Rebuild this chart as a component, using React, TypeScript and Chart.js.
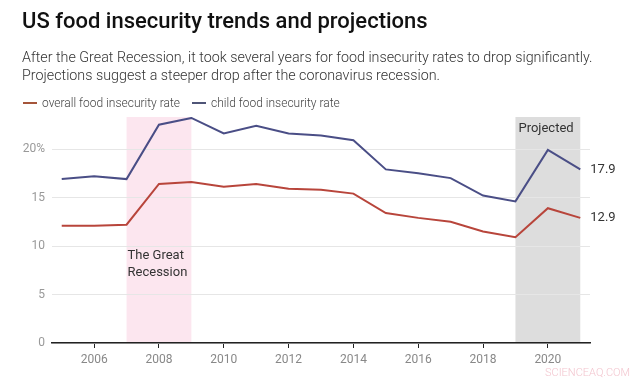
import React, { useEffect, useRef } from "react";
import { Chart, registerables } from "chart.js";

Chart.register(...registerables);

const years = [2005, 2006, 2007, 2008, 2009, 2010, 2011, 2012, 2013, 2014, 2015, 2016, 2017, 2018, 2019, 2020, 2021];
const overallRate = [12.1, 12.1, 12.2, 16.4, 16.6, 16.1, 16.4, 15.9, 15.8, 15.4, 13.4, 12.9, 12.5, 11.5, 10.9, 13.9, 12.9];
const childRate = [16.9, 17.2, 16.9, 22.5, 23.2, 21.6, 22.4, 21.6, 21.4, 20.9, 17.9, 17.5, 17.0, 15.2, 14.6, 19.9, 17.9];
const yTicks = [0, 5, 10, 15, 20];
const xTicks = [2006, 2008, 2010, 2012, 2014, 2016, 2018, 2020];
const recession = [2007, 2009];
const projected = [2019, 2021];
const endLabels = ["12.9", "17.9"];

const RED = "#b8453b";
const BLUE = "#4a4e86";

export default function App() {
  const ref = useRef<HTMLCanvasElement | null>(null);

  useEffect(() => {
    const canvas = ref.current;
    if (!canvas) return;

    const bandsPlugin = {
      id: "bands",
      beforeDraw(chart: any) {
        const { ctx, chartArea, scales } = chart;
        const x = scales.x;
        ctx.save();
        ctx.fillStyle = "#fce6ef";
        const r0 = x.getPixelForValue(recession[0]);
        const r1 = x.getPixelForValue(recession[1]);
        ctx.fillRect(r0, chartArea.top, r1 - r0, chartArea.bottom - chartArea.top);
        ctx.fillStyle = "#dddddd";
        const p0 = x.getPixelForValue(projected[0]);
        const p1 = x.getPixelForValue(projected[1]);
        ctx.fillRect(p0, chartArea.top, p1 - p0, chartArea.bottom - chartArea.top);
        ctx.restore();
      },
      afterDatasetsDraw(chart: any) {
        const { ctx, chartArea, scales } = chart;
        const x = scales.x;
        const y = scales.y;
        ctx.save();
        ctx.fillStyle = "#333";
        ctx.font = "13px Roboto";
        ctx.textBaseline = "middle";
        ctx.textAlign = "left";
        const r0 = x.getPixelForValue(recession[0]);
        ctx.fillText("The Great", r0 + 1, y.getPixelForValue(9.0));
        ctx.fillText("Recession", r0 + 1, y.getPixelForValue(7.2));
        const p0 = x.getPixelForValue(projected[0]);
        ctx.fillText("Projected", p0 + 3, chartArea.top + 12);
        const last = years.length - 1;
        const xe = x.getPixelForValue(years[last]) + 10;
        ctx.fillText(endLabels[0], xe, y.getPixelForValue(overallRate[last]));
        ctx.fillText(endLabels[1], xe, y.getPixelForValue(childRate[last]));
        ctx.restore();
      },
    };

    const chart = new Chart(canvas, {
      type: "line",
      data: {
        datasets: [
          {
            label: "overall food insecurity rate",
            data: years.map((yr, i) => ({ x: yr, y: overallRate[i] })),
            borderColor: RED,
            borderWidth: 2,
            pointRadius: 0,
            tension: 0,
          },
          {
            label: "child food insecurity rate",
            data: years.map((yr, i) => ({ x: yr, y: childRate[i] })),
            borderColor: BLUE,
            borderWidth: 2,
            pointRadius: 0,
            tension: 0,
          },
        ],
      },
      options: {
        animation: false,
        responsive: false,
        maintainAspectRatio: false,
        layout: { padding: { left: 0, right: 52, top: 117, bottom: 0 } },
        plugins: { legend: { display: false }, title: { display: false }, tooltip: { enabled: false } },
        scales: {
          x: {
            type: "linear",
            min: 2004.7,
            max: 2021.3,
            afterBuildTicks: (axis: any) => {
              axis.ticks = xTicks.map((v) => ({ value: v }));
            },
            afterFit: (axis: any) => {
              axis.height = 40;
            },
            grid: { display: true, drawOnChartArea: false, drawTicks: true, tickLength: 5, color: "#222" },
            border: { display: true, color: "#222", width: 1.5 },
            ticks: {
              color: "#888",
              font: { family: "Roboto", size: 12 },
              padding: 5,
              maxRotation: 0,
              callback: (v: any) => String(v),
            },
          },
          y: {
            min: 0,
            max: 23.3,
            afterBuildTicks: (axis: any) => {
              axis.ticks = yTicks.map((v) => ({ value: v }));
            },
            afterFit: (axis: any) => {
              axis.width = 52;
            },
            grid: { color: "#e6e6e6", drawTicks: false, lineWidth: 1 },
            border: { display: false },
            ticks: {
              color: "#999",
              font: { family: "Roboto", size: 12 },
              padding: 7,
              callback: (v: any) => (v === 20 ? "20%" : String(v)),
            },
          },
        },
      },
      plugins: [bandsPlugin],
    });

    return () => chart.destroy();
  }, []);

  const legendItem = (color: string, text: string, ml: number) => (
    <span style={{ display: "inline-flex", alignItems: "center", marginLeft: ml }}>
      <span style={{ display: "inline-block", width: 14, height: 2, background: color, marginRight: 5 }} />
      <span>{text}</span>
    </span>
  );

  return (
    <div style={{ position: "absolute", left: 0, top: 0, width: 642, height: 383, background: "#fff", fontFamily: "Roboto" }}>
      <canvas ref={ref} width={642} height={383} style={{ position: "absolute", left: 0, top: 0 }} />
      <div style={{ position: "absolute", left: 22, top: 8, fontSize: 22, fontWeight: 500, color: "#111", whiteSpace: "nowrap" }}>
        US food insecurity trends and projections
      </div>
      <div style={{ position: "absolute", left: 22, top: 49, fontSize: 14.3, lineHeight: "17.5px", fontWeight: 300, color: "#333", whiteSpace: "nowrap" }}>
        After the Great Recession, it took several years for food insecurity rates to drop significantly.
        <br />
        Projections suggest a steeper drop after the coronavirus recession.
      </div>
      <div style={{ position: "absolute", left: 0, top: 96, fontSize: 12, lineHeight: "14px", fontWeight: 300, color: "#444", whiteSpace: "nowrap", display: "flex" }}>
        {legendItem("#a5553a", "overall food insecurity rate", 23)}
        {legendItem("#4f5577", "child food insecurity rate", 12)}
      </div>
      <div style={{ position: "absolute", left: 545, top: 366, fontSize: 11, color: "#f3c6cf", fontWeight: 300, whiteSpace: "nowrap" }}>
        SCIENCEAQ.COM
      </div>
    </div>
  );
}
